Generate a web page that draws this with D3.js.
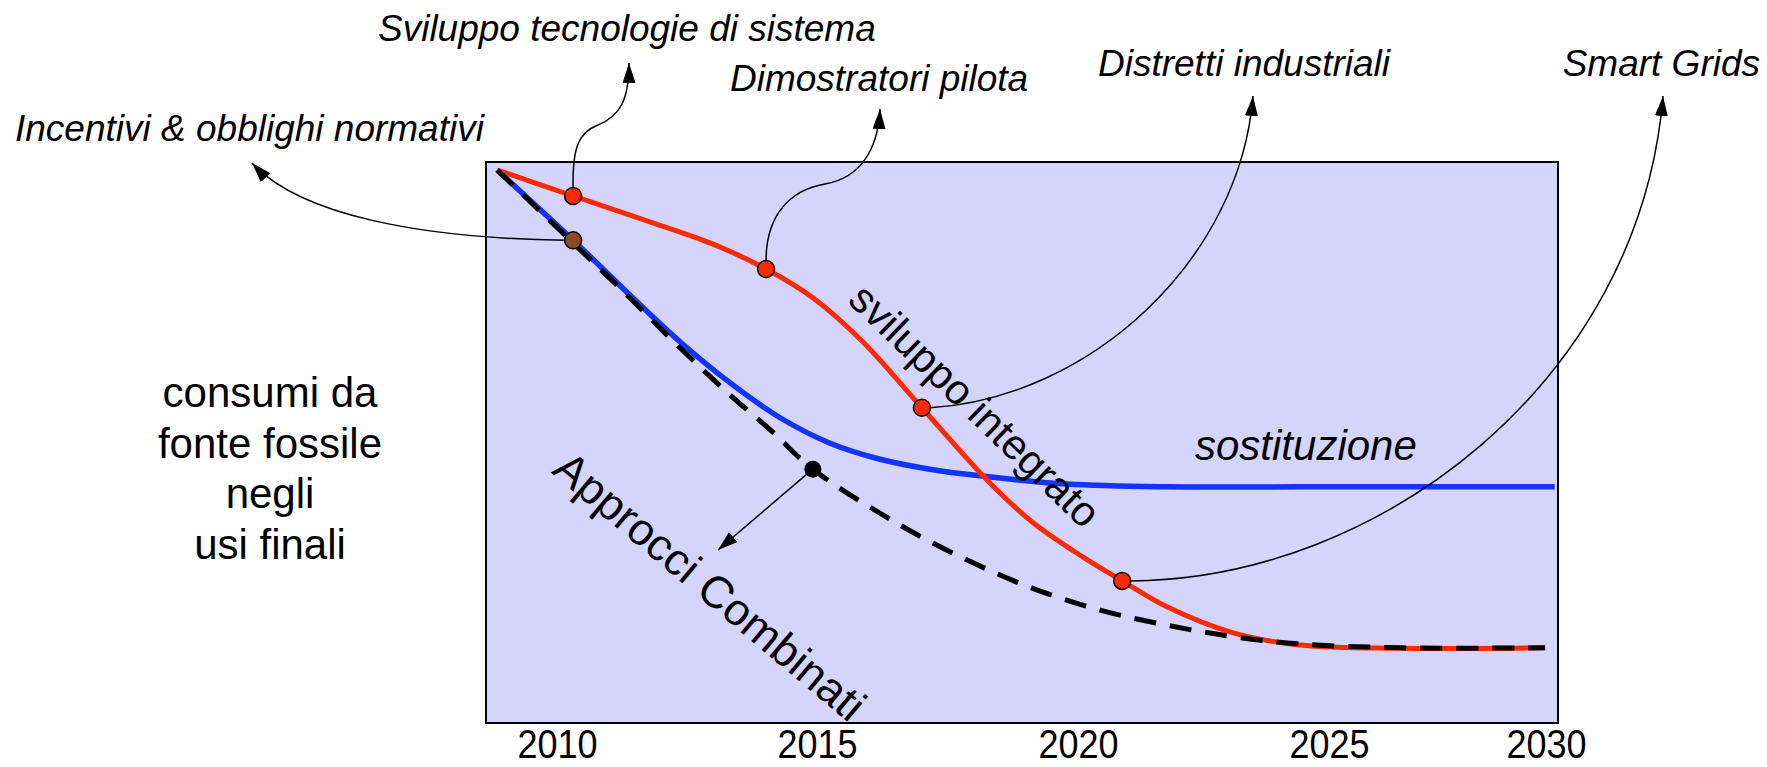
<!DOCTYPE html>
<html><head><meta charset="utf-8">
<script src="https://cdn.jsdelivr.net/npm/d3@7"></script>
<style>
html,body{margin:0;padding:0;background:#fff;}
svg{display:block;}
</style></head><body>
<svg id="chart" width="1767" height="767"></svg>
<script>
// ---------------- data ----------------
const tickYears  = [2010, 2015, 2020, 2025, 2030];
const tickLabels = ["2010", "2015", "2020", "2025", "2030"];

// "sviluppo integrato" (red)
const integratoYears  = [2008.85, 2010.31, 2011.73, 2013.0, 2014.02, 2014.92, 2015.88, 2017.01, 2018.26, 2019.14, 2020.1, 2020.88, 2021.77, 2023.09, 2024.42, 2026.64, 2029.98];
const integratoValues = [100, 95.3, 90.8, 86.6, 82.1, 76.9, 68.9, 57.0, 43.9, 36.2, 30.0, 25.7, 21.0, 16.3, 14.1, 13.5, 13.6];

// "sostituzione" (blue)
const sostituzioneYears  = [2008.85, 2010.31, 2011.40, 2012.37, 2013.33, 2014.29, 2015.25, 2016.21, 2017.16, 2018.12, 2019.79, 2021.77, 2024.42, 2026.64, 2030.2];
const sostituzioneValues = [100, 87.3, 77.4, 68.9, 61.5, 55.2, 50.6, 47.7, 45.9, 44.7, 43.2, 42.7, 42.7, 42.7, 42.7];

// "Approcci Combinati" (black dashed)
const combinatiYears  = [2008.85, 2010.31, 2011.40, 2012.37, 2013.33, 2014.15, 2014.92, 2016.59, 2017.87, 2019.12, 2020.44, 2021.77, 2023.09, 2024.42, 2026.64, 2029.98];
const combinatiValues = [100, 86.8, 76.9, 67.8, 59.3, 52.6, 45.9, 35.8, 29.5, 24.4, 20.4, 17.7, 15.6, 14.3, 13.6, 13.6];

// milestones on the red curve
const milestoneYears  = [2010.31, 2014.02, 2017.01, 2020.88];
const milestoneValues = [95.3, 82.1, 57.0, 25.7];
const milestoneLabels = ["Sviluppo tecnologie di sistema", "Dimostratori pilota", "Distretti industriali", "Smart Grids"];

// marker on the blue curve
const incentiviYear = 2010.31, incentiviValue = 87.3;
const incentiviLabel = "Incentivi & obblighi normativi";

// marker on the dashed curve
const combinatiMarkYear = 2014.92, combinatiMarkValue = 45.9;

const yAxisLabel = ["consumi da", "fonte fossile", "negli", "usi finali"];
const seriesLabels = { integrato: "sviluppo integrato", sostituzione: "sostituzione", combinati: "Approcci Combinati" };

// ---------------- layout ----------------
const plot = { left: 486, top: 162, width: 1072, height: 561 };
const FONT = "'Liberation Sans', Arial, Helvetica, sans-serif";
const NARROW = "'Liberation Sans Narrow', 'Arial Narrow', 'Liberation Sans', sans-serif";

const svg = d3.select("#chart");
const defs = svg.append("defs");
defs.append("marker")
  .attr("id", "arrow").attr("markerUnits", "userSpaceOnUse")
  .attr("markerWidth", 22).attr("markerHeight", 14)
  .attr("refX", 20).attr("refY", 6.5).attr("orient", "auto")
  .append("path").attr("d", "M0,0 L20,6.5 L0,13 Z").attr("fill", "#000");

const g = svg.append("g").attr("transform", `translate(${plot.left},${plot.top})`);

// x: the original places year labels by hand, so a polylinear scale
const x = d3.scaleLinear().domain(tickYears).range([71, 331, 592, 843, 1060]);
const y = d3.scaleLinear().domain([0, 100]).range([plot.height, 8]);

// plot frame
g.append("rect").attr("x", 0).attr("y", 0).attr("width", plot.width).attr("height", plot.height)
  .attr("fill", "#d4d4fc").attr("stroke", "#000").attr("stroke-width", 2);

// x axis labels
const xAxis = d3.axisBottom(x).tickValues(tickYears).tickFormat((d, i) => tickLabels[i]).tickSize(0).tickPadding(0);
const ax = g.append("g").attr("transform", `translate(0,${plot.height})`).call(xAxis);
ax.select(".domain").remove();
ax.selectAll("text").attr("font-family", NARROW).attr("font-size", 40).attr("fill", "#000")
  .attr("dy", null).attr("y", 35).attr("transform", "scale(0.9,1)");

const line = d3.line().x(d => x(d[0])).y(d => y(d[1])).curve(d3.curveCatmullRom.alpha(0.5));
const zip = (a, b) => a.map((v, i) => [v, b[i]]);

g.append("path").datum(zip(sostituzioneYears, sostituzioneValues))
  .attr("d", line).attr("fill", "none").attr("stroke", "#1234ff").attr("stroke-width", 5.5);
g.append("path").datum(zip(integratoYears, integratoValues))
  .attr("d", line).attr("fill", "none").attr("stroke", "#ff2a00").attr("stroke-width", 5);
g.append("path").datum(zip(combinatiYears, combinatiValues))
  .attr("d", line).attr("fill", "none").attr("stroke", "#000").attr("stroke-width", 5)
  .attr("stroke-dasharray", "22,14");

// ---- annotations (arrows from markers to labels), absolute coords ----
const ann = svg.append("g");
function px(yr, v) { return [plot.left + x(yr), plot.top + y(v)]; }

const arrowStyle = s => s.attr("fill", "none").attr("stroke", "#000").attr("stroke-width", 1.5).attr("marker-end", "url(#arrow)");

// Incentivi
{
  const [mx, my] = px(incentiviYear, incentiviValue);
  const p = d3.path();
  p.moveTo(mx - 8, my);
  p.bezierCurveTo(420, my - 2, 300, 215, 252, 163);
  ann.append("path").attr("d", p.toString()).call(arrowStyle);
}
// milestones
const msPaths = [
  (mx, my) => { const p = d3.path(); p.moveTo(mx, my - 8); p.bezierCurveTo(mx - 1, 145, 580, 132, 598, 125); p.bezierCurveTo(620, 116, 629, 100, 629, 63); return p; },
  (mx, my) => { const p = d3.path(); p.moveTo(mx, my - 8); p.bezierCurveTo(mx, 215, 790, 190, 825, 184); p.bezierCurveTo(860, 178, 878, 150, 880, 109); return p; },
  (mx, my) => { const p = d3.path(); p.moveTo(mx + 8, my); p.bezierCurveTo(1090, 398, 1240, 260, 1253, 96); return p; },
  (mx, my) => { const p = d3.path(); p.moveTo(mx + 8, my); p.bezierCurveTo(1380, 580, 1640, 380, 1663, 96); return p; }
];
milestoneYears.forEach((yr, i) => {
  const [mx, my] = px(yr, milestoneValues[i]);
  ann.append("path").attr("d", msPaths[i](mx, my).toString()).call(arrowStyle);
});
// combinati arrow
{
  const [mx, my] = px(combinatiMarkYear, combinatiMarkValue);
  ann.append("path").attr("d", `M${mx - 6},${my + 5} L718,550`).call(arrowStyle);
}

// markers
g.append("circle").attr("cx", x(incentiviYear)).attr("cy", y(incentiviValue)).attr("r", 8.5)
  .attr("fill", "#8e4a22").attr("stroke", "#000").attr("stroke-width", 1.5);
g.selectAll("circle.ms").data(milestoneYears).enter().append("circle").attr("class", "ms")
  .attr("cx", d => x(d)).attr("cy", (d, i) => y(milestoneValues[i])).attr("r", 8.5)
  .attr("fill", "#ff2a00").attr("stroke", "#000").attr("stroke-width", 1.5);
g.append("circle").attr("cx", x(combinatiMarkYear)).attr("cy", y(combinatiMarkValue)).attr("r", 8.5).attr("fill", "#000");

// ---- texts ----
const labelPos = [
  { x: 378, y: 41, anchor: "start" },
  { x: 730, y: 91, anchor: "start" },
  { x: 1098, y: 76, anchor: "start" },
  { x: 1760, y: 76, anchor: "end" }
];
milestoneLabels.forEach((t, i) => {
  svg.append("text").attr("x", labelPos[i].x).attr("y", labelPos[i].y).attr("text-anchor", labelPos[i].anchor)
    .attr("font-family", FONT).attr("font-style", "italic").attr("font-size", 37).attr("fill", "#000").text(t);
});
svg.append("text").attr("x", 15).attr("y", 141).attr("font-family", FONT).attr("font-style", "italic")
  .attr("font-size", 37).attr("fill", "#000").text(incentiviLabel);

svg.append("text").attr("x", 1195).attr("y", 460).attr("font-family", FONT).attr("font-style", "italic")
  .attr("font-size", 42).attr("fill", "#000").text(seriesLabels.sostituzione);

svg.append("text").attr("transform", "translate(965,416) rotate(44)").attr("text-anchor", "middle")
  .attr("font-family", FONT).attr("font-size", 42).attr("fill", "#000").text(seriesLabels.integrato);
svg.append("text").attr("transform", "translate(700,598) rotate(40)").attr("text-anchor", "middle")
  .attr("font-family", FONT).attr("font-size", 45).attr("fill", "#000").text(seriesLabels.combinati);

const yl = svg.append("text").attr("text-anchor", "middle").attr("font-family", FONT).attr("font-size", 42).attr("fill", "#000");
yAxisLabel.forEach((t, i) => yl.append("tspan").attr("x", 270).attr("y", 407 + i * 50.7).text(t));
</script>
</body></html>
